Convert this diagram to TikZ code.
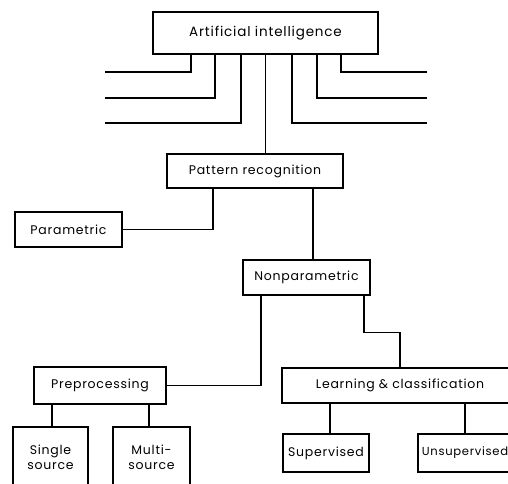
\documentclass[tikz,border=0pt]{standalone}
\usepackage{fontspec}
\setmainfont{Poppins}[LetterSpace=6]
\begin{document}
\begin{tikzpicture}[x=1pt,y=-1pt,
  box/.style={draw, line width=1.6pt, inner sep=0pt, align=center, font=\fontsize{12.5}{15}\selectfont},
  conn/.style={line width=1.1pt}]
\useasboundingbox (0,0) rectangle (508,483);
\clip (0,0) rectangle (508,483);
% nodes
\node[box, minimum width=225pt, minimum height=42pt, font=\fontsize{13.5}{16}\selectfont] (ai) at (265.5,33) {Artificial intelligence};
\node[box, minimum width=176pt, minimum height=34pt] (pr) at (255,171) {Pattern recognition};
\node[box, minimum width=107pt, minimum height=35pt] (pa) at (68.5,229.5) {Parametric};
\node[box, minimum width=127pt, minimum height=35pt] (np) at (306.5,277.5) {Nonparametric};
\node[box, minimum width=132pt, minimum height=37pt] (pp) at (100,385.5) {Preprocessing};
\node[box, minimum width=236pt, minimum height=35pt] (lc) at (400,385.5) {Learning \& classification};
\node[box, minimum width=75pt, minimum height=60pt] (ss) at (50.5,457) {Single\\source};
\node[box, minimum width=77pt, minimum height=60pt] (ms) at (151.5,457) {Multi-\\source};
\node[box, minimum width=86pt, minimum height=38pt] (su) at (326,453) {Supervised};
\node[box, minimum width=94pt, minimum height=38pt, font=\fontsize{11.6}{14}\selectfont] (us) at (465,453) {Unsupervised};
% free ends
\coordinate (l1) at (105,72);
\coordinate (l2) at (105,98);
\coordinate (l3) at (105,123);
\coordinate (r1) at (427,72);
\coordinate (r2) at (427,98);
\coordinate (r3) at (427,123);
% connectors
\draw[conn] (ai.south) ++(-74.5,0) |- (l1);
\draw[conn] (ai.south) ++(-50.5,0) |- (l2);
\draw[conn] (ai.south) ++(-24.5,0) |- (l3);
\draw[conn] (ai.south) ++(75.5,0) |- (r1);
\draw[conn] (ai.south) ++(51.5,0) |- (r2);
\draw[conn] (ai.south) ++(26.5,0) |- (r3);
\draw[conn] (ai.south) -- (ai.south |- pr.north);
\draw[conn] (pr.south) ++(-42,0) |- (pa.east);
\draw[conn] (pr.south) ++(58,0) -- ++(0,72);
\draw[conn] (np.south) ++(-45.5,0) |- (pp.east);
\draw[conn] (np.south) ++(57.5,0) -- ++(0,37) -| (lc.north);
\draw[conn] (pp.south) ++(-48,0) -- ++(0,23);
\draw[conn] (pp.south) ++(49,0) -- ++(0,23);
\draw[conn] (lc.south) ++(-70,0) -- ++(0,31);
\draw[conn] (lc.south) ++(65,0) -- ++(0,31);
\end{tikzpicture}
\end{document}
